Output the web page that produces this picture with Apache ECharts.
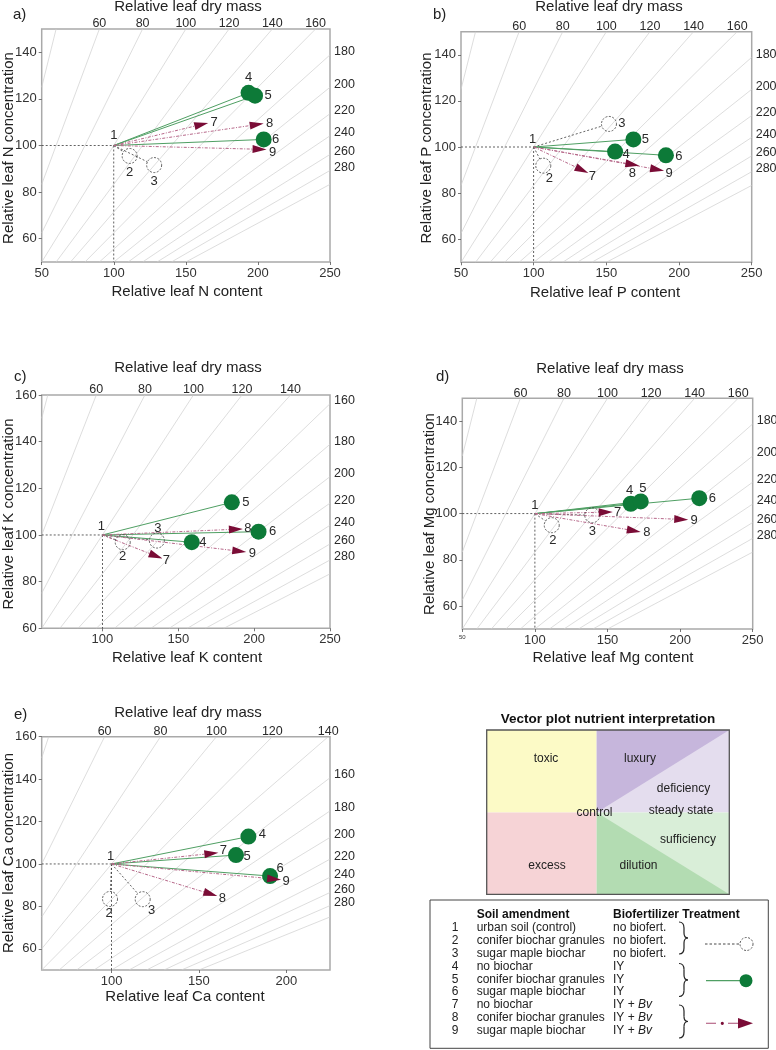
<!DOCTYPE html>
<html><head><meta charset="utf-8">
<script src="https://cdn.jsdelivr.net/npm/echarts@6/dist/echarts.min.js"></script>
<style>html,body{margin:0;padding:0;background:#fff}#c{width:776px;height:1050px}</style>
</head><body><div id="c"></div>
<script>
// ---------------- data ----------------
const pointIds = ['1','2','3','4','5','6','7','8','9'];
const treatment = ['control','nb','nb','iy','iy','iy','bv','bv','bv'];

const nContent  = [100, 111, 128, 193.5, 198, 204, 165.5, 204, 206];
const nConc     = [100, 95.5, 91.6, 122.6, 121.4, 102.6, 109.7, 109.4, 98.3];
const pContent  = [100, 106.6, 151.8, 156, 168.6, 191, 137.6, 172.7, 189.7];
const pConc     = [100, 91.9, 110, 98, 103.3, 96.4, 88.7, 91.9, 89.7];
const kContent  = [100, 113.4, 135.9, 158.9, 185.3, 202.9, 139.6, 192.6, 194.8];
const kConc     = [100, 96.9, 97.6, 96.9, 114, 101.4, 89.9, 102.6, 92.7];
const mgContent = [100, 111.6, 139.5, 166, 172.9, 213.2, 153.6, 172.9, 205.6];
const mgConc    = [100, 95, 99.3, 104.3, 105.3, 106.7, 100.7, 92.1, 97.4];
const caContent = [100, 99.1, 117.8, 178.3, 171.2, 190.7, 161.1, 160.5, 197];
const caConc    = [100, 83.5, 83.4, 112.9, 104.2, 94.3, 105.3, 84.9, 92.6];

const massIsolines   = [40, 60, 80, 100, 120, 140, 160, 180, 200, 220, 240, 260, 280, 300];
const topMassTicks   = [60, 80, 100, 120, 140, 160];
const rightMassTicks = [160, 180, 200, 220, 240, 260, 280];

const xTicksFull = [50, 100, 150, 200, 250];
const xTicksK    = [100, 150, 200, 250];
const xTicksCa   = [100, 150, 200];
const yTicks150  = [60, 80, 100, 120, 140];
const yTicks160  = [60, 80, 100, 120, 140, 160];

const legendRows = [
  ['1', 'urban soil (control)', 'no biofert.'],
  ['2', 'conifer biochar granules', 'no biofert.'],
  ['3', 'sugar maple biochar', 'no biofert.'],
  ['4', 'no biochar', 'IY'],
  ['5', 'conifer biochar granules', 'IY'],
  ['6', 'sugar maple biochar', 'IY'],
  ['7', 'no biochar', 'IY + '],
  ['8', 'conifer biochar granules', 'IY + '],
  ['9', 'sugar maple biochar', 'IY + ']
];

// ---------------- layout / style ----------------
const FONT = '"Liberation Sans", Arial, sans-serif';
const panels = [
  { letter:'a)', nut:'N', content:nContent, conc:nConc,
    grid:{left:41.7, top:29, width:288.3, height:233}, x:[50,250], y:[50,150],
    xt:xTicksFull, yt:yTicks150, letterPos:[13,15], massTitle:[188,6.5], xTitle:[187,292], yTitle:[8.5,148],
    off:[[0,-10],[0,16],[0,16],[0,-15],[13,0],[12,0],[6,0],[6,0],[6,3]] },
  { letter:'b)', nut:'P', content:pContent, conc:pConc,
    grid:{left:461, top:31.7, width:290.7, height:230.6}, x:[50,250], y:[50,150],
    xt:xTicksFull, yt:yTicks150, letterPos:[433,15], massTitle:[609,6.5], xTitle:[605,292.5], yTitle:[427,148],
    off:[[-1,-8],[6,13],[13,-1],[11,3],[12,0],[13,1],[4,3],[-7,8],[5,3]] },
  { letter:'c)', nut:'K', content:kContent, conc:kConc,
    grid:{left:41.7, top:395, width:288.3, height:233.3}, x:[60,250], y:[60,160],
    xt:xTicksK, yt:yTicks160, letterPos:[14,377], massTitle:[188,368], xTitle:[187,658], yTitle:[8.5,514],
    off:[[-1,-9],[0,14],[1,-12],[11,0],[14,0],[14,0],[4,2],[5,0],[6,1]] },
  { letter:'d)', nut:'Mg', content:mgContent, conc:mgConc,
    grid:{left:462.3, top:398.3, width:290.4, height:230.7}, x:[50,250], y:[50,150],
    xt:xTicksFull, yt:yTicks150, tinyMin:true, letterPos:[436,377], massTitle:[610,368.5], xTitle:[613,658], yTitle:[430,514],
    off:[[0,-8],[1,15],[0,16],[-1,-13],[2,-13],[13,0],[5,0],[6,1],[6,1]] },
  { letter:'e)', nut:'Ca', content:caContent, conc:caConc,
    grid:{left:41.7, top:736.7, width:288.3, height:233.3}, x:[60,225], y:[50,160],
    xt:xTicksCa, yt:yTicks160, letterPos:[14,715], massTitle:[188,713], xTitle:[185,997], yTitle:[8.5,853],
    off:[[-1,-8],[-1,14],[9,11],[14,-2],[11,1],[10,-8],[5,-2],[5,2],[5,2]] }
];

const C = {
  iso:'#cfcfcf', frame:'#a9a9a9', text:'#2a2a2a', ref:'#3a3a3a',
  greenLine:'#4f9f63', greenDot:'#0d7a38', bvLine:'#b7688a', bvHead:'#7a0c36'
};

// ---------------- build option ----------------
const grids = [], xAxes = [], yAxes = [], series = [], graphics = [];

function makeRender(pn){
  return function(params, api){
    const i = params.dataIndex;
    const p0 = api.coord([100,100]);
    const p = api.coord([api.value(0), api.value(1)]);
    const t = treatment[i];
    const off = pn.off[i];
    const ch = [];
    if (t === 'control'){
      const pl = api.coord([pn.x[0],100]);
      const pb = api.coord([100,pn.y[0]]);
      ch.push({type:'line', z2:1, shape:{x1:pl[0],y1:pl[1],x2:p0[0],y2:p0[1]}, style:{stroke:C.ref,lineWidth:0.8,lineDash:[2,2]}});
      ch.push({type:'line', z2:1, shape:{x1:p0[0],y1:p0[1],x2:pb[0],y2:pb[1]}, style:{stroke:C.ref,lineWidth:0.8,lineDash:[2,2]}});
    } else {
      const dx = p[0]-p0[0], dy = p[1]-p0[1], len = Math.hypot(dx,dy), ux = dx/len, uy = dy/len;
      if (t === 'nb'){
        const r = 7.5;
        ch.push({type:'line', z2:2, shape:{x1:p0[0],y1:p0[1],x2:p[0]-ux*r,y2:p[1]-uy*r}, style:{stroke:C.ref,lineWidth:0.8,lineDash:[2,2]}});
        ch.push({type:'circle', z2:5, shape:{cx:p[0],cy:p[1],r:r}, style:{fill:null,stroke:C.ref,lineWidth:0.8,lineDash:[2,1.5]}});
      } else if (t === 'iy'){
        ch.push({type:'line', z2:2, shape:{x1:p0[0],y1:p0[1],x2:p[0],y2:p[1]}, style:{stroke:C.greenLine,lineWidth:1}});
        ch.push({type:'circle', z2:6, shape:{cx:p[0],cy:p[1],r:8}, style:{fill:C.greenDot,stroke:null}});
      } else {
        const L = 14, w = 4;
        const bx = p[0]-ux*L, by = p[1]-uy*L, nx = -uy, ny = ux;
        ch.push({type:'line', z2:3, shape:{x1:p0[0],y1:p0[1],x2:bx,y2:by}, style:{stroke:C.bvLine,lineWidth:1,lineDash:[3,1.5,1,1.5]}});
        ch.push({type:'polygon', z2:7, shape:{points:[[p[0],p[1]],[bx+nx*w,by+ny*w],[bx-nx*w,by-ny*w]]}, style:{fill:C.bvHead}});
      }
    }
    ch.push({type:'text', z2:10, style:{text:pointIds[i], x:p[0]+off[0], y:p[1]+off[1], fill:C.text,
      fontSize:13, fontFamily:FONT, align:'center', verticalAlign:'middle'}});
    return {type:'group', children:ch};
  };
}

// mass tick labels drawn where the isolines meet the top / right frame
function renderMassLabel(params, api){
  const p = api.coord([api.value(0), api.value(1)]);
  const side = api.value(3);
  const top = side === 0;
  return {type:'text', style:{text:String(api.value(2)), x:p[0] + (top ? 0 : 4), y:p[1] + (top ? -5 : -3),
    fill:'#2a2a2a', fontSize:12.5, fontFamily:FONT, align: top ? 'center' : 'left', verticalAlign:'middle'}};
}

panels.forEach((pn, k) => {
  grids.push(Object.assign({show:true, borderColor:C.frame, borderWidth:1.5, backgroundColor:'transparent',
    containLabel:false, outerBoundsMode:'none'}, pn.grid));
  const axisCommon = {
    type:'value', gridIndex:k, splitLine:{show:false},
    axisLine:{show:false},
    axisTick:{show:true, length:3, lineStyle:{color:'#555', width:0.8}},
  };
  xAxes.push(Object.assign({}, axisCommon, {
    min:pn.x[0], max:pn.x[1], position:'bottom',
    axisTick:Object.assign({}, axisCommon.axisTick, {customValues:pn.xt}),
    axisLabel:{customValues:pn.xt, fontSize:13, color:'#333', fontFamily:FONT, margin:5,
      formatter:(v) => (pn.tinyMin && v === pn.x[0]) ? '{s|' + v + '}' : String(v),
      rich:{s:{fontSize:6, color:'#333', fontFamily:FONT}}}
  }));
  yAxes.push(Object.assign({}, axisCommon, {
    min:pn.y[0], max:pn.y[1], position:'left',
    axisTick:Object.assign({}, axisCommon.axisTick, {customValues:pn.yt}),
    axisLabel:{customValues:pn.yt, fontSize:13, color:'#333', fontFamily:FONT, margin:5}
  }));

  // dry-mass isolines: concentration = 100 * content / mass, clipped to the plot
  const isoData = [];
  massIsolines.forEach(m => {
    const xs = Math.max(pn.x[0], pn.y[0]*m/100);
    const xe = Math.min(pn.x[1], pn.y[1]*m/100);
    if (xs < xe) isoData.push({coords:[[xs, 100*xs/m],[xe, 100*xe/m]]});
  });
  series.push({type:'lines', coordinateSystem:'cartesian2d', xAxisIndex:k, yAxisIndex:k, silent:true, z:1,
    lineStyle:{color:C.iso, width:0.7, opacity:1}, data:isoData});

  // mass tick labels
  const topData = topMassTicks.filter(m => pn.y[1]*m/100 <= pn.x[1]).map(m => [pn.y[1]*m/100, pn.y[1], m, 0]);
  const rightData = rightMassTicks.filter(m => 100*pn.x[1]/m <= pn.y[1]).map(m => [pn.x[1], 100*pn.x[1]/m, m, 1]);
  series.push({type:'custom', xAxisIndex:k, yAxisIndex:k, silent:true, z:3, clip:false,
    renderItem:renderMassLabel, data:topData.concat(rightData)});

  // vectors
  series.push({type:'custom', xAxisIndex:k, yAxisIndex:k, silent:true, z:5, clip:false,
    renderItem:makeRender(pn),
    data:pn.content.map((c,i) => [c, pn.conc[i]])});

  // texts
  graphics.push({type:'text', style:{text:pn.letter, x:pn.letterPos[0], y:pn.letterPos[1], fill:'#222', fontSize:15, fontFamily:FONT, verticalAlign:'middle'}});
  graphics.push({type:'text', style:{text:'Relative leaf dry mass', x:pn.massTitle[0], y:pn.massTitle[1], fill:'#222', fontSize:15, fontFamily:FONT, align:'center', verticalAlign:'middle'}});
  graphics.push({type:'text', style:{text:'Relative leaf ' + pn.nut + ' content', x:pn.xTitle[0], y:pn.xTitle[1], fill:'#222', fontSize:15, fontFamily:FONT, align:'center', verticalAlign:'middle'}});
  graphics.push({type:'text', x:pn.yTitle[0], y:pn.yTitle[1], rotation:Math.PI/2,
    style:{text:'Relative leaf ' + pn.nut + ' concentration', x:0, y:0, fill:'#222', fontSize:15, fontFamily:FONT, align:'center', verticalAlign:'middle'}});
});

// ---------------- interpretation diagram ----------------
(function(){
  const L=486.7, T=730, R=729.3, B=894.3, MX=596.7, MY=812.5;
  const g = [];
  g.push({type:'text', style:{text:'Vector plot nutrient interpretation', x:608, y:719, fill:'#111', fontSize:13.5, fontWeight:'bold', fontFamily:FONT, align:'center', verticalAlign:'middle'}});
  g.push({type:'rect', shape:{x:L,y:T,width:MX-L,height:MY-T}, style:{fill:'#fcfac6'}});
  g.push({type:'rect', shape:{x:L,y:MY,width:MX-L,height:B-MY}, style:{fill:'#f6d3d6'}});
  g.push({type:'rect', shape:{x:MX,y:T,width:R-MX,height:MY-T}, style:{fill:'#e4ddee'}});
  g.push({type:'polygon', shape:{points:[[MX,T],[R,T],[MX,MY]]}, style:{fill:'#c6b6dc'}});
  g.push({type:'rect', shape:{x:MX,y:MY,width:R-MX,height:B-MY}, style:{fill:'#d9eed8'}});
  g.push({type:'polygon', shape:{points:[[MX,MY],[R,B],[MX,B]]}, style:{fill:'#b3dcb2'}});
  g.push({type:'rect', shape:{x:L,y:T,width:R-L,height:B-T}, style:{fill:null, stroke:'#555', lineWidth:1.3}});
  const t = (txt,x,y) => g.push({type:'text', style:{text:txt, x:x, y:y, fill:'#222', fontSize:12, fontFamily:FONT, align:'center', verticalAlign:'middle'}});
  t('toxic',546,759); t('luxury',640,759); t('deficiency',683.5,788.5); t('control',594.5,812.5);
  t('steady state',681,811); t('sufficiency',688,839.5); t('excess',547,866); t('dilution',638.5,866);

  // legend box
  g.push({type:'rect', shape:{x:430,y:900,width:338.3,height:148.3}, style:{fill:'#fff', stroke:'#444', lineWidth:1}});
  g.push({type:'text', style:{text:'Soil amendment', x:476.7, y:914.3, fill:'#111', fontSize:12, fontWeight:'bold', fontFamily:FONT, verticalAlign:'middle'}});
  g.push({type:'text', style:{text:'Biofertilizer Treatment', x:613, y:914.3, fill:'#111', fontSize:12, fontWeight:'bold', fontFamily:FONT, verticalAlign:'middle'}});
  const rowY = [927.7, 940.6, 953.4, 966.2, 979.2, 992.1, 1005, 1018, 1031];
  legendRows.forEach((r,i) => {
    g.push({type:'text', style:{text:r[0], x:455, y:rowY[i], fill:'#222', fontSize:12, fontFamily:FONT, align:'center', verticalAlign:'middle'}});
    g.push({type:'text', style:{text:r[1], x:476.7, y:rowY[i], fill:'#222', fontSize:12, fontFamily:FONT, verticalAlign:'middle'}});
    if (i >= 6) {
      g.push({type:'text', style:{text:'{n|' + r[2] + '}{i|Bv}', x:613, y:rowY[i], fill:'#222', fontSize:12, fontFamily:FONT, verticalAlign:'middle',
        rich:{n:{fontSize:12, fontFamily:FONT, fill:'#222'}, i:{fontSize:12, fontFamily:FONT, fontStyle:'italic', fill:'#222'}}}});
    } else {
      g.push({type:'text', style:{text:r[2], x:613, y:rowY[i], fill:'#222', fontSize:12, fontFamily:FONT, verticalAlign:'middle'}});
    }
  });
  // braces built from curve and line pieces
  const bs = {fill:null, stroke:'#222', lineWidth:1.2};
  const brace = (x0, y0, H) => {
    const cy = y0 + H/2, xm = x0 + 5;
    g.push({type:'bezierCurve', shape:{x1:x0, y1:y0, cpx1:xm, cpy1:y0, x2:xm, y2:y0+6}, style:bs});
    g.push({type:'line', shape:{x1:xm, y1:y0+6, x2:xm, y2:cy-5}, style:bs});
    g.push({type:'bezierCurve', shape:{x1:xm, y1:cy-5, cpx1:xm, cpy1:cy, x2:x0+9, y2:cy}, style:bs});
    g.push({type:'bezierCurve', shape:{x1:x0+9, y1:cy, cpx1:xm, cpy1:cy, x2:xm, y2:cy+5}, style:bs});
    g.push({type:'line', shape:{x1:xm, y1:cy+5, x2:xm, y2:y0+H-6}, style:bs});
    g.push({type:'bezierCurve', shape:{x1:xm, y1:y0+H-6, cpx1:xm, cpy1:y0+H, x2:x0, y2:y0+H}, style:bs});
  };
  brace(679, 922, 32); brace(679, 963.5, 33); brace(679, 1005, 33);
  // legend symbols
  g.push({type:'line', shape:{x1:705,y1:944,x2:740,y2:944}, style:{stroke:'#333', lineWidth:0.9, lineDash:[2.5,2]}});
  g.push({type:'circle', shape:{cx:746.5,cy:944,r:6.5}, style:{fill:null, stroke:'#333', lineWidth:0.8, lineDash:[2,1.5]}});
  g.push({type:'line', shape:{x1:706,y1:980.7,x2:742,y2:980.7}, style:{stroke:C.greenLine, lineWidth:1.2}});
  g.push({type:'circle', shape:{cx:746,cy:980.7,r:6.5}, style:{fill:C.greenDot}});
  g.push({type:'line', shape:{x1:706,y1:1023.3,x2:716,y2:1023.3}, style:{stroke:C.bvLine, lineWidth:1.2}});
  g.push({type:'circle', shape:{cx:722.3,cy:1023.3,r:1.6}, style:{fill:C.bvHead}});
  g.push({type:'line', shape:{x1:728,y1:1023.3,x2:740,y2:1023.3}, style:{stroke:C.bvLine, lineWidth:1.2}});
  g.push({type:'polygon', shape:{points:[[738,1018],[753,1023.3],[738,1028.6]]}, style:{fill:C.bvHead}});
  g.forEach(e => graphics.push(e));
})();

const chart = echarts.init(document.getElementById('c'), null, {renderer:'canvas'});
chart.setOption({
  animation:false,
  backgroundColor:'#ffffff',
  textStyle:{fontFamily:FONT},
  grid:grids, xAxis:xAxes, yAxis:yAxes, series:series, graphic:graphics
});
</script></body></html>
